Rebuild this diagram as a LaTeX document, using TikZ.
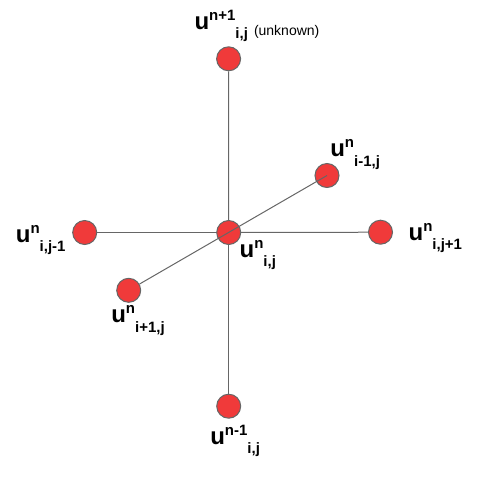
\documentclass[tikz,border=0pt]{standalone}
\usepackage{fontspec}
\setmainfont{Liberation Sans}
\usetikzlibrary{backgrounds}
\definecolor{dotred}{RGB}{240,58,58}
\definecolor{linegray}{RGB}{102,102,102}
\newcommand{\ulab}[2]{{\fontsize{24}{24}\selectfont\bfseries u}\raisebox{9pt}{\fontsize{15}{15}\selectfont\bfseries #1}\raisebox{-9.5pt}{\fontsize{15}{15}\selectfont\bfseries #2}}
\begin{document}
\begin{tikzpicture}[x=1pt,y=-1pt,
  dot/.style={circle,draw=linegray,fill=dotred,line width=1pt,minimum size=24pt,inner sep=0pt},
  conn/.style={draw=linegray,line width=1pt},
  lab/.style={anchor=base west,inner sep=0pt,outer sep=0pt}]
\useasboundingbox (0,0) rectangle (485,483);
\node[dot] (c) at (228.7,232.5) {};
\node[dot] (t) at (228.6,58.8) {};
\node[dot] (b) at (228.7,406.2) {};
\node[dot] (l) at (84.7,232.5) {};
\node[dot] (r) at (380.5,232.2) {};
\node[dot] (ur) at (327,175.5) {};
\node[dot] (ll) at (128.7,290.3) {};
\begin{scope}[on background layer]
\draw[conn] (t) -- (c);
\draw[conn] (c) -- (b);
\draw[conn] (l) -- (c);
\draw[conn] (c) -- (r);
\end{scope}
\draw[conn] (ll) -- (ur.center);
\node[lab] (Lt) at (194.5,29) {\ulab{n+1}{i,j}};
\node[lab,font=\fontsize{14}{14}\selectfont] (unk) at (254,35) {(unknown)};
\node[lab] (Lur) at (330.3,156.7) {\ulab{n}{i-1,j}};
\node[lab] (Lr) at (408.6,240) {\ulab{n}{i,j+1}};
\node[lab] (Ll) at (15.9,242.3) {\ulab{n}{i,j-1}};
\node[lab] (Lc) at (239.6,257) {\ulab{n}{i,j}};
\node[lab] (Lll) at (111.3,322.7) {\ulab{n}{i+1,j}};
\node[lab] (Lb) at (210.3,444.3) {\ulab{n-1}{i,j}};
\end{tikzpicture}
\end{document}
